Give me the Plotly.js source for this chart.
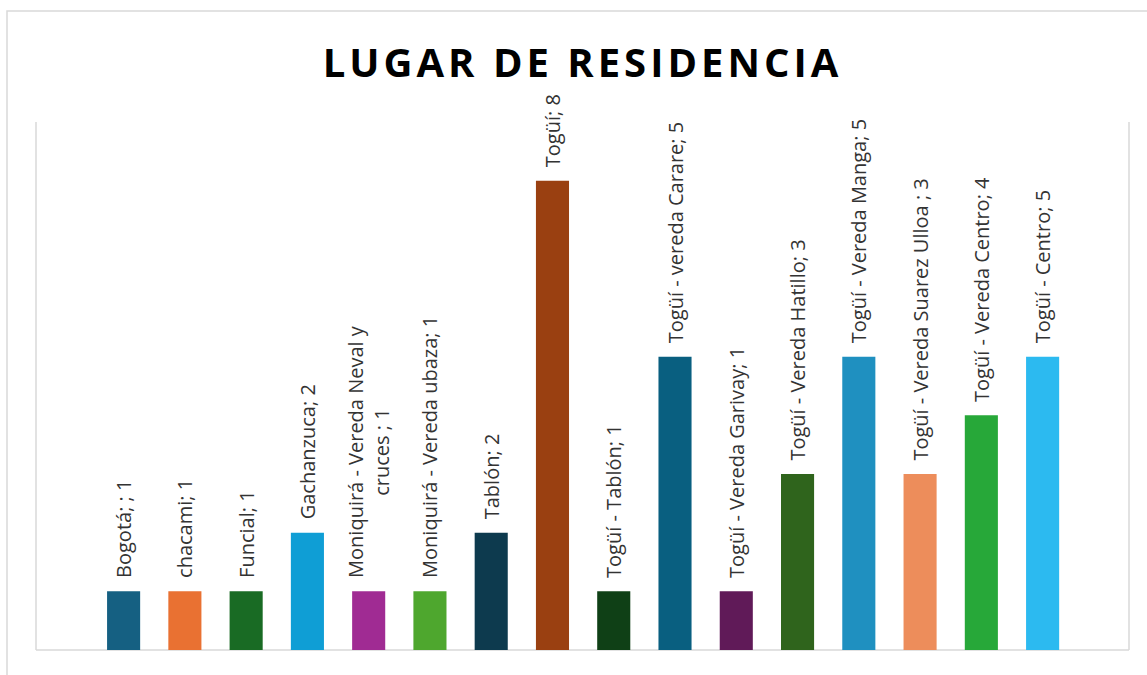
<!DOCTYPE html>
<html>
<head>
<meta charset="utf-8">
<script src="https://cdn.plot.ly/plotly-3.0.1.min.js"></script>
<style>
  html, body { margin: 0; padding: 0; background: #fff; }
  #chart { width: 1147px; height: 675px; }
  .gtitle { letter-spacing: 4px; }
</style>
</head>
<body>
<div id="chart"></div>
<script>
// Categories (lugar de residencia)
const categories = [
  "Bogotá; ",
  "chacami",
  "Funcial",
  "Gachanzuca",
  "Moniquirá - Vereda Neval y<br>cruces ",
  "Moniquirá - Vereda ubaza",
  "Tablón",
  "Togüí",
  "Togüí - Tablón",
  "Togüí - vereda Carare",
  "Togüí - Vereda Garivay",
  "Togüí - Vereda Hatillo",
  "Togüí - Vereda Manga",
  "Togüí - Vereda Suarez Ulloa ",
  "Togüí - Vereda Centro",
  "Togüí - Centro"
];
// Counts
const values = [1, 1, 1, 2, 1, 1, 2, 8, 1, 5, 1, 3, 5, 3, 4, 5];
// Bar colours (Office theme accents, darker and lighter variants)
const barColors = [
  "#156082", "#E97132", "#196B24", "#0F9ED5", "#A02B93", "#4EA72E",
  "#0D3A4E", "#9A4011", "#0F4016", "#095F80", "#601A58", "#2F641C",
  "#1F90C0", "#ED8D5B", "#27A839", "#2CBAF0"
];
const chartTitle = "LUGAR DE RESIDENCIA";

// label = category + "; " + value, with a small leading gap from the bar
const pad = "\u00a0\u00a0";
const labels = categories.map((c, i) => pad + (c + "; " + values[i]).split("<br>").join("<br>" + pad));

const trace = {
  type: "bar",
  x: categories,
  y: values,
  marker: { color: barColors },
  text: labels,
  textposition: "outside",
  textangle: -90,
  cliponaxis: false,
  constraintext: "none",
  outsidetextfont: { family: "Open Sans, Noto Sans, sans-serif", size: 20, color: "#333333" },
  hoverinfo: "none"
};

const W = 1147, H = 675;
const mL = 36, mR = 18, mT = 122, mB = 25;
const pw = W - mL - mR, ph = H - mT - mB;
const px = v => (v - mL) / pw;
const py = v => (H - mB - v) / ph;

const gridCol = "#d9d9d9";
const layout = {
  width: W, height: H,
  margin: { l: mL, r: mR, t: mT, b: mB, pad: 0 },
  paper_bgcolor: "#ffffff",
  plot_bgcolor: "rgba(0,0,0,0)",
  showlegend: false,
  hovermode: false,
  bargap: 0.46,
  title: {
    text: "<b>" + chartTitle + "</b>",
    font: { family: "Open Sans, Noto Sans, sans-serif", size: 40, color: "#000000" },
    x: 0.5, xref: "paper", xanchor: "center",
    y: 1 - 63 / H, yref: "container", yanchor: "middle"
  },
  xaxis: {
    type: "category",
    range: [-1.43, 16.41],
    showticklabels: false, showgrid: false, zeroline: false, showline: false, ticks: ""
  },
  yaxis: {
    range: [0, 9],
    showticklabels: false, showgrid: false, zeroline: false, showline: false, ticks: ""
  },
  shapes: [
    { type: "rect", xref: "paper", yref: "paper", layer: "below",
      x0: px(7), x1: px(1160), y0: py(690), y1: py(11),
      line: { color: gridCol, width: 1.5 }, fillcolor: "rgba(0,0,0,0)" },
    { type: "line", xref: "paper", yref: "paper", layer: "below",
      x0: 0, x1: 0, y0: 0, y1: 1, line: { color: gridCol, width: 1.5 } },
    { type: "line", xref: "paper", yref: "paper", layer: "below",
      x0: 1, x1: 1, y0: 0, y1: 1, line: { color: gridCol, width: 1.5 } },
    { type: "line", xref: "paper", yref: "paper", layer: "below",
      x0: 0, x1: 1, y0: 0, y1: 0, line: { color: gridCol, width: 1.5 } }
  ]
};

Plotly.newPlot("chart", [trace], layout, { displayModeBar: false, staticPlot: true });
</script>
</body>
</html>
